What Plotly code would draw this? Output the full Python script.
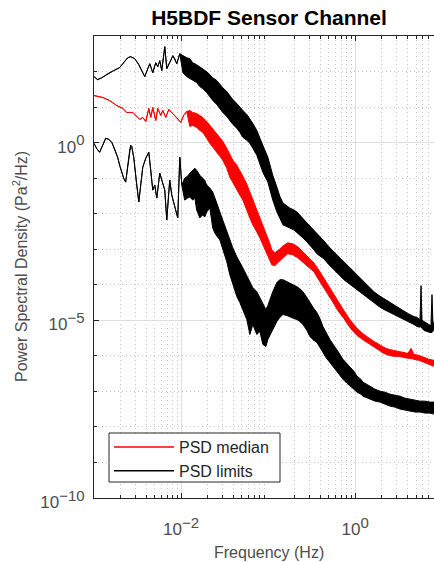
import plotly.graph_objects as go

# ---------------- data ----------------
# PSD upper limit: frequency (Hz), upper edge and lower edge of the noisy trace (Pa^2/Hz)
upper_freq = [1.00e-3, 1.10e-3, 1.23e-3, 1.44e-3, 1.68e-3, 1.97e-3, 2.19e-3, 2.44e-3, 2.64e-3, 2.94e-3,
              3.27e-3, 3.53e-3, 3.83e-3, 4.14e-3, 4.37e-3, 4.73e-3, 5.12e-3, 5.40e-3, 5.69e-3, 6.00e-3,
              6.50e-3, 6.85e-3, 7.41e-3, 8.04e-3, 8.47e-3, 8.93e-3, 9.66e-3,
              1.05e-2, 1.16e-2, 1.26e-2, 1.36e-2, 1.51e-2, 1.64e-2, 1.77e-2, 1.97e-2, 2.14e-2, 2.31e-2,
              2.57e-2, 2.79e-2, 3.01e-2, 3.35e-2, 3.63e-2, 3.93e-2, 4.37e-2, 4.73e-2, 5.12e-2, 5.69e-2,
              6.17e-2, 6.67e-2, 7.41e-2, 8.04e-2, 8.69e-2, 9.93e-2, 0.105, 0.113, 0.126, 0.136,
              0.148, 0.164, 0.177, 0.198, 0.214, 0.231, 0.251, 0.279, 0.301, 0.335,
              0.363, 0.393, 0.437, 0.499, 0.569, 0.650, 0.741, 0.847, 0.966, 1.11,
              1.26, 1.44, 1.64, 1.88, 2.14, 2.45, 2.79, 3.18, 3.63, 4.03,
              4.73, 5.12, 5.55, 5.70, 5.85, 6.17, 6.67, 7.23, 7.41, 7.62, 7.82, 8.04]
upper_hi = [72, 59, 67, 87, 106, 129, 177, 245, 261, 230,
            156, 106, 72, 121, 166, 93, 177, 137, 202, 106,
            500, 121, 177, 279, 230, 166, 317,
            279, 245, 230, 177, 156, 137, 121, 99.3, 82, 67,
            56, 43.0, 35, 27.4, 21.1, 16.3, 12.6, 10.4, 8.03, 6.21,
            4.80, 3.47, 2.21, 1.41, 0.840, 0.387, 0.231, 0.121, 0.0560, 0.0313,
            0.0200, 0.0164, 0.0145, 0.0127, 0.0112, 9.20e-3, 7.11e-3, 5.49e-3, 4.52e-3, 3.49e-3,
            2.70e-3, 2.22e-3, 1.72e-3, 1.17e-3, 8.45e-4, 6.12e-4, 4.44e-4, 3.21e-4, 2.33e-4, 1.69e-4,
            1.22e-4, 8.85e-5, 6.41e-5, 4.95e-5, 4.08e-5, 3.16e-5, 2.60e-5, 2.14e-5, 1.77e-5, 1.55e-5,
            1.28e-5, 1.20e-5, 1.05e-5, 9.44e-5, 1.00e-5, 9.25e-6, 8.13e-6, 7.14e-6, 7.0e-6, 5.28e-5, 8.0e-6, 9.0e-6]
upper_lo = [72, 59, 67, 87, 106, 129, 177, 245, 261, 230,
            156, 106, 72, 121, 166, 93, 177, 137, 202, 106,
            500, 121, 177, 279, 230, 166, 317,
            93, 72, 63, 56, 49, 37.8, 33, 25.6, 19.8, 15.3,
            11.8, 9.14, 7.06, 5.46, 4.22, 3.26, 2.52, 1.95, 1.41, 1.16,
            0.955, 0.692, 0.441, 0.263, 0.147, 0.0773, 0.0461, 0.0242, 0.0112, 7.59e-3,
            4.83e-3, 4.24e-3, 3.97e-3, 3.49e-3, 3.07e-3, 2.53e-3, 2.08e-3, 1.61e-3, 1.33e-3, 9.62e-4,
            7.43e-4, 6.53e-4, 5.38e-4, 3.66e-4, 2.65e-4, 1.92e-4, 1.39e-4, 1.07e-4, 8.30e-5, 6.41e-5,
            4.95e-5, 4.08e-5, 3.16e-5, 2.44e-5, 2.01e-5, 1.66e-5, 1.46e-5, 1.20e-5, 1.05e-5, 9.25e-6,
            7.62e-6, 6.70e-6, 6.40e-6, 6.70e-6, 6.00e-6, 5.18e-6, 4.85e-6, 4.55e-6, 4.55e-6, 4.55e-6, 5.0e-6, 5.52e-6]

# PSD median
median_freq = [1.00e-3, 1.10e-3, 1.26e-3, 1.51e-3, 1.82e-3, 2.14e-3, 2.38e-3, 2.79e-3, 3.10e-3, 3.35e-3,
               3.63e-3, 3.93e-3, 4.26e-3, 4.49e-3, 4.73e-3, 5.12e-3, 5.40e-3, 5.85e-3, 6.17e-3, 6.67e-3,
               7.23e-3, 8.04e-3, 8.93e-3, 9.93e-3, 1.07e-2, 1.16e-2,
               1.26e-2, 1.36e-2, 1.51e-2, 1.64e-2, 1.77e-2, 1.97e-2, 2.14e-2, 2.31e-2, 2.57e-2, 2.79e-2,
               3.01e-2, 3.35e-2, 3.63e-2, 3.93e-2, 4.37e-2, 4.73e-2, 5.12e-2, 5.69e-2, 6.17e-2, 6.67e-2,
               7.41e-2, 8.04e-2, 8.69e-2, 9.42e-2, 9.93e-2, 0.105, 0.110, 0.119, 0.133, 0.148,
               0.168, 0.192, 0.219, 0.251, 0.286, 0.335, 0.393, 0.460, 0.540, 0.632,
               0.741, 0.869, 1.05, 1.26, 1.44, 1.64, 1.88, 2.14, 2.45, 2.79,
               3.18, 3.63, 4.03, 4.38, 4.73, 5.41, 6.17, 7.03, 8.04]
median_hi = [21.1, 19.8, 18.6, 15.3, 11.1, 9.14, 7.06, 7.06, 5.46, 4.50,
             5.12, 3.95, 9.14, 5.12, 9.75, 4.22, 9.14, 5.82, 8.03, 5.12,
             8.57, 6.62, 5.12, 3.71, 5.82, 7.53,
             8.03, 7.06, 6.62, 5.82, 5.12, 3.95, 3.05, 2.36, 1.83, 1.41,
             1.09, 0.692, 0.441, 0.319, 0.231, 0.167, 0.114, 0.0679, 0.0406, 0.0242,
             0.0127, 8.09e-3, 4.83e-3, 3.07e-3, 2.08e-3, 1.42e-3, 9.62e-4, 7.92e-4, 9.62e-4, 1.24e-3,
             1.51e-3, 1.42e-3, 1.17e-3, 8.45e-4, 6.12e-4, 4.16e-4, 2.33e-4, 1.22e-4, 6.41e-5, 3.37e-5,
             1.88e-5, 1.05e-5, 5.89e-6, 4.00e-6, 3.09e-6, 2.55e-6, 2.10e-6, 1.73e-6, 1.52e-6, 1.43e-6,
             1.34e-6, 1.25e-6, 1.17e-6, 1.62e-6, 1.10e-6, 1.03e-6, 9.08e-7, 7.98e-7, 7.48e-7]
median_lo = [21.1, 19.8, 18.6, 15.3, 11.1, 9.14, 7.06, 7.06, 5.46, 4.50,
             5.12, 3.95, 9.14, 5.12, 9.75, 4.22, 9.14, 5.82, 8.03, 5.12,
             8.57, 6.62, 5.12, 3.71, 5.82, 7.53,
             2.86, 3.05, 2.68, 2.21, 1.95, 1.32, 0.955, 0.738, 0.535, 0.413,
             0.319, 0.190, 0.107, 0.0724, 0.0461, 0.0334, 0.0242, 0.0127, 7.59e-3, 4.83e-3,
             3.07e-3, 2.08e-3, 1.33e-3, 9.02e-4, 6.97e-4, 4.73e-4, 3.66e-4, 3.43e-4, 4.44e-4, 5.74e-4,
             7.43e-4, 6.97e-4, 5.74e-4, 4.16e-4, 3.21e-4, 2.33e-4, 1.22e-4, 6.41e-5, 3.59e-5, 1.88e-5,
             1.12e-5, 6.28e-6, 3.75e-6, 2.72e-6, 2.10e-6, 1.73e-6, 1.43e-6, 1.17e-6, 1.03e-6, 9.68e-7,
             9.68e-7, 9.08e-7, 8.51e-7, 8.51e-7, 7.98e-7, 7.48e-7, 6.58e-7, 5.78e-7, 5.08e-7]

# PSD lower limit
lower_freq = [1.00e-3, 1.07e-3, 1.16e-3, 1.26e-3, 1.36e-3, 1.48e-3, 1.60e-3, 1.73e-3, 1.87e-3, 1.97e-3,
              2.08e-3, 2.19e-3, 2.31e-3, 2.44e-3, 2.57e-3, 2.64e-3, 2.71e-3, 2.86e-3, 3.01e-3, 3.10e-3,
              3.27e-3, 3.44e-3, 3.63e-3, 3.93e-3, 4.26e-3, 4.49e-3, 4.73e-3, 4.99e-3, 5.26e-3, 5.69e-3,
              6.00e-3, 6.50e-3, 6.85e-3, 7.23e-3, 7.41e-3, 7.82e-3, 8.47e-3, 9.16e-3, 9.66e-3, 1.02e-2,
              1.10e-2, 1.19e-2, 1.26e-2, 1.36e-2, 1.44e-2, 1.51e-2, 1.64e-2, 1.77e-2, 1.87e-2, 1.97e-2,
              2.14e-2, 2.31e-2, 2.44e-2, 2.57e-2, 2.79e-2, 3.01e-2, 3.18e-2, 3.35e-2, 3.63e-2, 3.93e-2,
              4.37e-2, 4.73e-2, 5.12e-2, 5.69e-2, 6.17e-2, 6.67e-2, 7.41e-2, 8.04e-2, 8.69e-2, 9.42e-2,
              9.93e-2, 0.105, 0.113, 0.126, 0.136, 0.148, 0.164, 0.177, 0.198, 0.214,
              0.231, 0.251, 0.279, 0.301, 0.335, 0.363, 0.393, 0.426, 0.460, 0.512,
              0.569, 0.617, 0.668, 0.723, 0.803, 0.869, 0.966, 1.05, 1.16, 1.23,
              1.37, 1.48, 1.69, 1.93, 2.20, 2.51, 2.86, 3.27, 3.73, 4.26,
              4.86, 5.55, 6.32, 7.23, 8.04]
lower_hi = [0.955, 0.692, 0.535, 0.840, 1.32, 1.24, 1.02, 0.649, 0.387, 0.231,
            0.147, 0.100, 0.0773, 0.190, 0.608, 0.840, 0.787, 0.387, 0.121, 0.0637,
            0.0213, 0.0637, 0.203, 0.363, 0.535, 0.167, 0.0461, 0.0637, 0.0275, 0.138,
            0.0879, 0.0461, 6.67e-3, 0.0334, 0.0879, 0.0334, 0.0154, 7.59e-3, 0.387, 0.0637,
            0.100, 0.114, 0.138, 0.167, 0.190, 0.167, 0.121, 0.100, 0.0879, 0.0637,
            0.0525, 0.0406, 0.0294, 0.0200, 0.0112, 6.67e-3, 4.52e-3, 3.07e-3, 1.83e-3, 1.09e-3,
            6.12e-4, 4.44e-4, 3.01e-4, 1.80e-4, 1.15e-4, 8.30e-5, 6.41e-5, 4.36e-5, 2.77e-5, 2.01e-5,
            2.60e-5, 3.83e-5, 6.41e-5, 1.15e-4, 1.39e-4, 1.39e-4, 1.22e-4, 1.15e-4, 1.01e-4, 8.85e-5,
            7.78e-5, 6.41e-5, 4.36e-5, 3.16e-5, 2.14e-5, 1.66e-5, 1.12e-5, 6.70e-6, 4.55e-6, 2.90e-6,
            1.97e-6, 1.52e-6, 1.10e-6, 7.98e-7, 6.17e-7, 5.08e-7, 3.68e-7, 2.67e-7, 2.20e-7, 1.81e-7,
            1.59e-7, 1.40e-7, 1.15e-7, 1.01e-7, 9.51e-8, 8.36e-8, 7.83e-8, 7.34e-8, 6.46e-8, 6.05e-8,
            5.68e-8, 5.32e-8, 5.32e-8, 4.99e-8, 4.99e-8]
lower_lo = [0.955, 0.692, 0.535, 0.840, 1.32, 1.24, 1.02, 0.649, 0.387, 0.231,
            0.147, 0.100, 0.0773, 0.190, 0.608, 0.840, 0.787, 0.387, 0.121, 0.0637,
            0.0213, 0.0637, 0.203, 0.363, 0.535, 0.167, 0.0461, 0.0637, 0.0275, 0.138,
            0.0879, 0.0461, 6.67e-3, 0.0334, 0.0879, 0.0334, 0.0154, 7.59e-3, 0.387, 0.0637,
            0.0242, 0.0275, 0.0294, 0.0242, 0.0275, 0.0127, 7.59e-3, 9.20e-3, 8.09e-3, 0.0112,
            0.0145, 3.97e-3, 2.88e-3, 2.37e-3, 1.83e-3, 9.62e-4, 6.97e-4, 4.44e-4, 1.92e-4, 1.01e-4,
            4.65e-5, 3.16e-5, 2.01e-5, 1.05e-5, 4.00e-6, 7.62e-6, 4.00e-6, 4.85e-6, 2.10e-6, 1.84e-6,
            2.90e-6, 3.52e-6, 5.52e-6, 9.25e-6, 1.20e-5, 1.46e-5, 1.36e-5, 1.28e-5, 1.12e-5, 1.05e-5,
            9.25e-6, 7.62e-6, 5.18e-6, 3.52e-6, 2.72e-6, 2.39e-6, 1.73e-6, 1.25e-6, 9.08e-7, 6.58e-7,
            4.47e-7, 3.45e-7, 2.84e-7, 2.20e-7, 1.70e-7, 1.40e-7, 1.15e-7, 9.51e-8, 8.36e-8, 7.34e-8,
            6.46e-8, 6.05e-8, 5.32e-8, 4.99e-8, 4.38e-8, 3.85e-8, 3.61e-8, 3.18e-8, 2.98e-8, 2.79e-8,
            2.62e-8, 2.62e-8, 2.45e-8, 2.45e-8, 2.30e-8]

series_names = ["PSD median", "PSD limits"]
title_text = "H5BDF Sensor Channel"
x_label = "Frequency (Hz)"
y_label = "Power Spectral Density (Pa<sup>2</sup>/Hz)"
x_tickvals = [1e-2, 1e0]
x_tickexp = ["\u22122", "0"]
y_tickvals = [1e-10, 1e-5, 1e0]
y_tickexp = ["\u221210", "\u22125", "0"]

RED = "#ff0000"
BLACK = "#000000"
AX = "#262626"
LABEL = "#4d4d4d"
FONT = "Liberation Sans, Arial, Helvetica, sans-serif"


def tick_text(exps):
    return ["10<sup><span style='font-size:15px'>%s</span></sup>" % e for e in exps]


def band(freq, hi, lo, color):
    xs = list(freq) + list(freq)[::-1]
    ys = list(hi) + list(lo)[::-1]
    return go.Scatter(x=xs, y=ys, mode="lines", fill="toself", fillcolor=color,
                      line=dict(color=color, width=1), showlegend=False, hoverinfo="skip")


fig = go.Figure()
fig.add_trace(band(lower_freq, lower_hi, lower_lo, BLACK))
fig.add_trace(band(upper_freq, upper_hi, upper_lo, BLACK))
fig.add_trace(band(median_freq, median_hi, median_lo, RED))
# legend entries
fig.add_trace(go.Scatter(x=[None], y=[None], mode="lines", name=series_names[0],
                         line=dict(color=RED, width=1.5)))
fig.add_trace(go.Scatter(x=[None], y=[None], mode="lines", name=series_names[1],
                         line=dict(color=BLACK, width=1.5)))

x_minor = [k * 10.0 ** e for e in range(-3, 1) for k in range(2, 10)]
y_minor = [10.0 ** e for e in range(-9, 3) if e not in (-5, 0)]

# plot area in pixels: left 94, right 434 (cut by the window), top 36, bottom 498
PW, PH = 340.0, 462.0


def px_x(px):
    return (px - 94) / PW


def px_y(py):
    return (498 - py) / PH


fig.update_layout(
    width=434, height=562,
    margin=dict(l=94, r=0, t=36, b=64),
    paper_bgcolor="white", plot_bgcolor="white",
    font=dict(family=FONT, size=16, color=LABEL),
    title=dict(text="<b>" + title_text + "</b>", x=269 / 434, xref="container", xanchor="center",
               y=1 - 17.5 / 562, yref="container", yanchor="middle",
               font=dict(family=FONT, size=21, color="#000000")),
    showlegend=True,
    legend=dict(x=px_x(109), y=px_y(459), xanchor="left", yanchor="middle",
                bgcolor="rgba(0,0,0,0)", borderwidth=0,
                font=dict(family=FONT, size=16, color="#262626"),
                itemwidth=60, tracegroupgap=0),
    shapes=[dict(type="rect", xref="paper", yref="paper",
                 x0=px_x(109), x1=px_x(280), y0=px_y(482), y1=px_y(433),
                 fillcolor="white", line=dict(color=AX, width=1), layer="above")],
    xaxis=dict(type="log", range=[-3, 0.905], showline=True, linecolor=AX, linewidth=1,
               mirror="ticks", ticks="inside", ticklen=5, tickcolor=AX,
               tickvals=x_tickvals, ticktext=tick_text(x_tickexp), ticklabelstandoff=16,
               showgrid=True, gridcolor="#dedede", gridwidth=1, zeroline=False,
               tickfont=dict(family=FONT, size=17, color=LABEL),
               minor=dict(tickvals=x_minor, ticks="inside", ticklen=3, tickcolor=AX,
                          showgrid=True, gridcolor="#c4c4c4", griddash="1px,3px", gridwidth=1)),
    yaxis=dict(type="log", range=[-10, 3], showline=True, linecolor=AX, linewidth=1,
               mirror=False, ticks="inside", ticklen=5, tickcolor=AX,
               tickvals=y_tickvals, ticktext=tick_text(y_tickexp), ticklabelstandoff=5,
               ticklabelshift=4,
               showgrid=True, gridcolor="#dedede", gridwidth=1, zeroline=False,
               tickfont=dict(family=FONT, size=17, color=LABEL),
               minor=dict(tickvals=y_minor, ticks="inside", ticklen=3, tickcolor=AX,
                          showgrid=True, gridcolor="#c4c4c4", griddash="1px,3px", gridwidth=1)),
    annotations=[
        dict(text=x_label, xref="paper", yref="paper", x=px_x(269), y=px_y(552),
             xanchor="center", yanchor="middle", showarrow=False,
             font=dict(family=FONT, size=16, color=LABEL)),
        dict(text=y_label, xref="paper", yref="paper", x=px_x(20), y=0.5,
             xanchor="center", yanchor="middle", textangle=-90, showarrow=False,
             font=dict(family=FONT, size=16, color=LABEL)),
    ],
)

fig.write_html("out.html")
